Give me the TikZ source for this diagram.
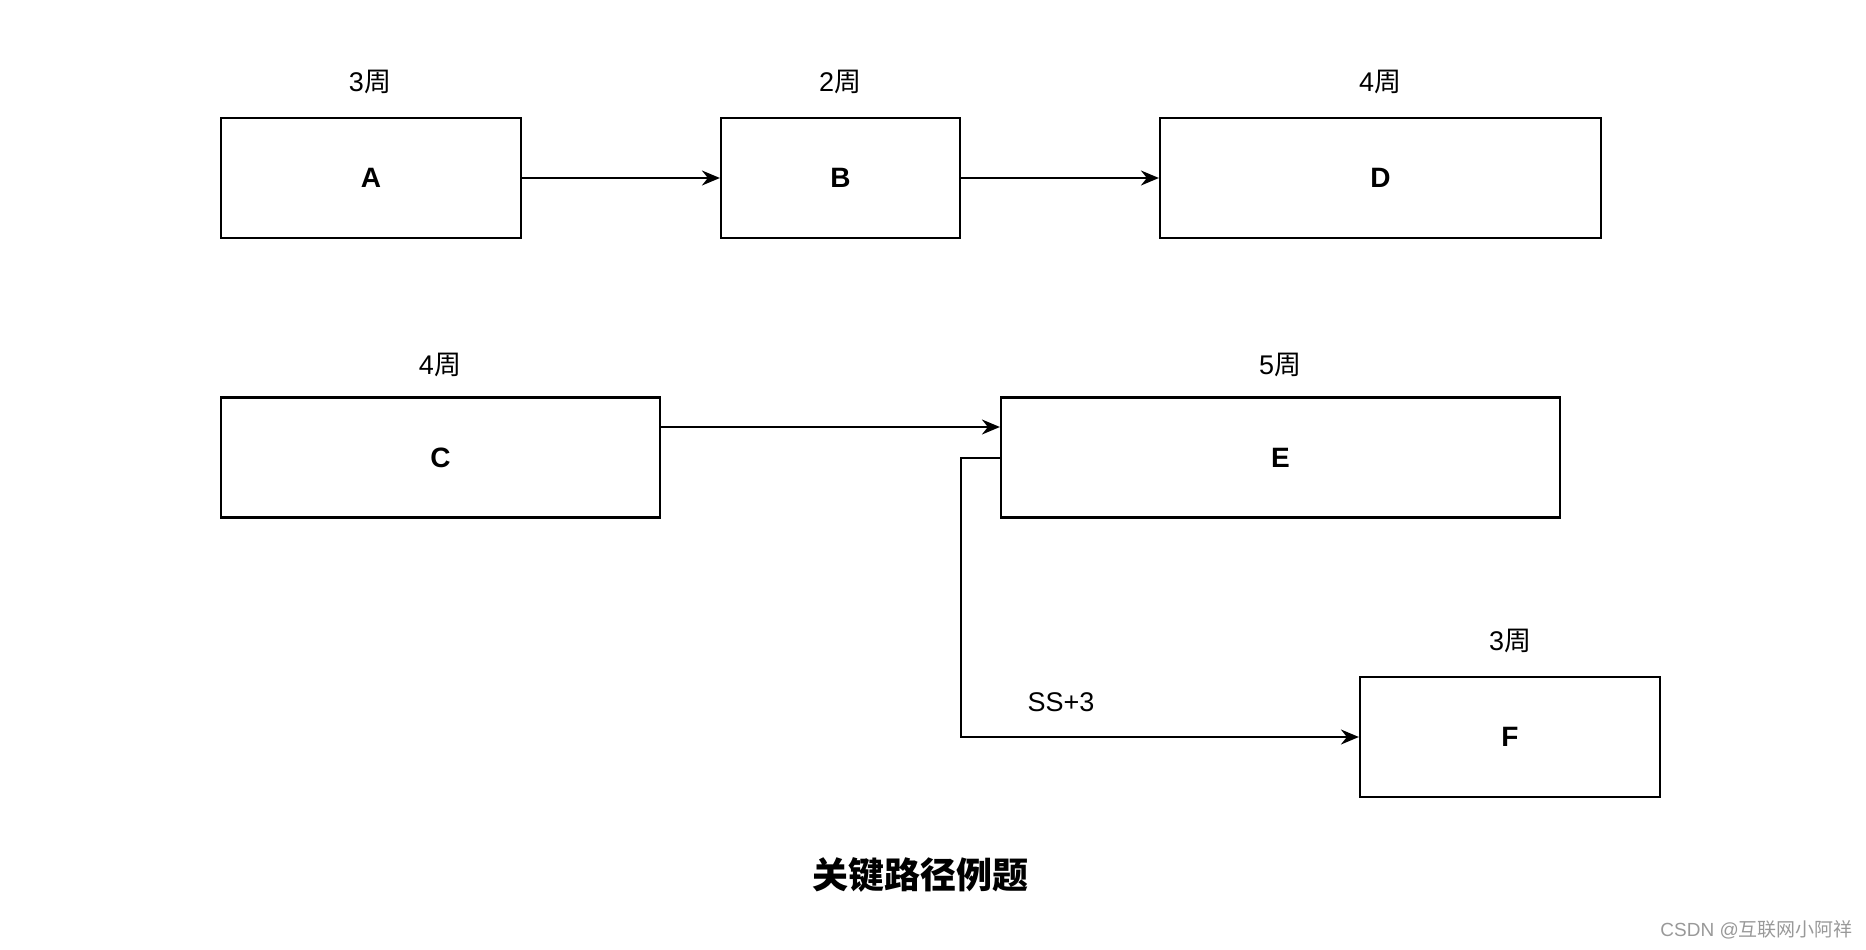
\documentclass[tikz,border=0pt]{standalone}
\usepackage{fontspec}
\setmainfont{Liberation Sans}
\newfontfamily\cjk{Noto Sans CJK SC}
\usetikzlibrary{arrows.meta}
\tikzset{
  task/.style={draw=black, line width=2.2pt, fill=white, inner sep=0pt, font=\fontsize{28}{32}\selectfont\bfseries},
  dur/.style={font=\fontsize{27}{32}\selectfont, inner sep=0pt},
  conn/.style={line width=2pt, -{Stealth[length=18pt,width=15pt,inset=6pt]}},
}
\begin{document}
\begin{tikzpicture}[x=1pt,y=-1pt]
\useasboundingbox (0,0) rectangle (1866,950);
\node[task, minimum width=300pt, minimum height=120pt] (A) at (371,178) {A};
\node[task, minimum width=239pt, minimum height=120pt] (B) at (840.5,178) {B};
\node[task, minimum width=441pt, minimum height=120pt] (D) at (1380.5,178) {D};
\node[task, minimum width=439pt, minimum height=120pt] (C) at (440.5,457.5) {C};
\node[task, minimum width=559pt, minimum height=120pt] (E) at (1280.5,457.5) {E};
\node[task, minimum width=300pt, minimum height=120pt] (F) at (1510,737) {F};
\node[dur] (dA) at (370,82) {3{\cjk 周}};
\node[dur] (dB) at (840,82) {2{\cjk 周}};
\node[dur] (dD) at (1380,82) {4{\cjk 周}};
\node[dur] (dC) at (440,365) {4{\cjk 周}};
\node[dur] (dE) at (1280,365) {5{\cjk 周}};
\node[dur] (dF) at (1510,641) {3{\cjk 周}};
\node[dur] (ss) at (1061,702) {SS+3};
\node[font=\fontsize{36}{40}\selectfont\cjk\bfseries, inner sep=0pt] (title) at (920,875) {关键路径例题};
\node[font=\fontsize{19}{22}\selectfont, text=black!40, inner sep=0pt, anchor=east] (wm) at (1853,930) {CSDN @{\cjk 互联网小阿祥}};
\draw[conn] (A.east) -- (B.west);
\draw[conn] (B.east) -- (D.west);
\draw[conn] (C.east |- 0,427) -- (E.west |- 0,427);
\coordinate (k1) at (961,457.5);
\coordinate (k2) at (961,737);
\draw[conn] (E.west) -- (k1) -- (k2) -- (F.west);
\end{tikzpicture}
\end{document}
